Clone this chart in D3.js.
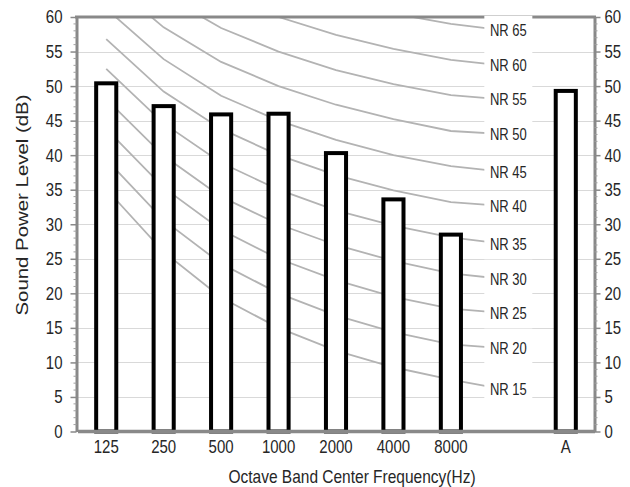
<!DOCTYPE html>
<html><head><meta charset="utf-8">
<script src="https://cdn.jsdelivr.net/npm/d3@7"></script>
<style>
body{margin:0;background:#fff}
svg{display:block;font-family:"Liberation Sans",Arial,sans-serif}
</style>
</head><body>
<svg id="chart" width="630" height="487"></svg>
<script>
// ---- data ----
const categories = ["125", "250", "500", "1000", "2000", "4000", "8000", "", "A"];
const soundPower = [50.4, 47.1, 45.9, 46.0, 40.3, 33.6, 28.5, null, 49.3];
const nrNames = ["NR 15", "NR 20", "NR 25", "NR 30", "NR 35", "NR 40", "NR 45", "NR 50", "NR 55", "NR 60", "NR 65"];
// values at 125,250,500,1000,2000,4000,8000 and the label point
const nr15 = [35.1, 26.0, 19.4, 15.0, 11.7, 9.3, 7.5, 6.0];
const nr20 = [39.4, 30.6, 24.3, 20.0, 16.8, 14.4, 12.6, 12.0];
const nr25 = [43.8, 35.3, 29.2, 25.0, 21.9, 19.5, 17.8, 17.1];
const nr30 = [48.1, 39.9, 34.0, 30.0, 27.0, 24.7, 22.9, 22.0];
const nr35 = [52.5, 44.6, 38.9, 35.0, 32.0, 29.8, 28.1, 27.1];
const nr40 = [56.8, 49.2, 43.8, 40.0, 37.1, 34.9, 33.2, 32.6];
const nr45 = [61.2, 53.9, 48.6, 45.0, 42.2, 40.0, 38.4, 37.5];
const nr50 = [65.5, 58.5, 53.5, 50.0, 47.3, 45.2, 43.5, 43.0];
const nr55 = [69.9, 63.2, 58.4, 55.0, 52.3, 50.3, 48.7, 48.0];
const nr60 = [74.2, 67.8, 63.2, 60.0, 57.4, 55.4, 53.8, 52.9];
const nr65 = [78.6, 72.5, 68.1, 65.0, 62.5, 60.5, 59.0, 58.0];
const nrSeries = [nr15, nr20, nr25, nr30, nr35, nr40, nr45, nr50, nr55, nr60, nr65];
const yTicks = [0, 5, 10, 15, 20, 25, 30, 35, 40, 45, 50, 55, 60];
const xTitle = "Octave Band Center Frequency(Hz)";
const yTitle = "Sound Power Level (dB)";

// ---- layout ----
const SY = 1.2; // vertical text stretch of the original
const TXT = "#262626";
const L = 77, R = 595, T = 17, B = 431.5;
const svg = d3.select("#chart");

const x = d3.scaleBand().domain(d3.range(categories.length)).range([L + 0.5, R - 0.5])
  .paddingInner(0.65).paddingOuter(0.325);
const y = d3.scaleLinear().domain([0, 60]).range([B, T]);
const cx = i => x(i) + x.bandwidth() / 2;

// gridlines
svg.append("g").selectAll("line").data(yTicks.filter(t => t > 0 && t < 60)).join("line")
  .attr("x1", L).attr("x2", R).attr("y1", d => Math.round(y(d)) + 0.5).attr("y2", d => Math.round(y(d)) + 0.5)
  .attr("stroke", "#d9d9d9").attr("stroke-width", 1);

// clip for NR lines
svg.append("clipPath").attr("id", "plotclip").append("rect")
  .attr("x", L).attr("y", T).attr("width", R - L).attr("height", B - T);

const line = d3.line().x((d, i) => cx(i)).y(d => y(d));
svg.append("g").attr("clip-path", "url(#plotclip)").selectAll("path").data(nrSeries).join("path")
  .attr("d", d => line(d)).attr("fill", "none").attr("stroke", "#b3b3b3").attr("stroke-width", 1.8);

// bars
svg.append("g").selectAll("rect").data(soundPower.map((v, i) => ({v, i})).filter(d => d.v !== null)).join("rect")
  .attr("x", d => x(d.i)).attr("y", d => y(d.v)).attr("width", x.bandwidth()).attr("height", d => y(0) - y(d.v))
  .attr("fill", "#fff").attr("stroke", "#000").attr("stroke-width", 4);

// axes
function styleAxis(g) {
  g.select(".domain").attr("stroke", "#898989").attr("stroke-width", 3);
  g.selectAll(".tick line").attr("stroke", "#898989").attr("stroke-width", 1.5);
}
const minor = d3.range(0, 61).filter(v => v % 5 !== 0);

const leftAx = svg.append("g").attr("transform", `translate(${L - 0.5},0)`)
  .call(d3.axisLeft(y).tickValues(yTicks).tickSize(6).tickSizeOuter(0).tickPadding(9));
leftAx.append("g").selectAll("line").data(minor).join("line")
  .attr("x1", -3).attr("x2", 0).attr("y1", d => y(d)).attr("y2", d => y(d))
  .attr("stroke", "#a0a0a0").attr("stroke-width", 1);
styleAxis(leftAx);
leftAx.selectAll(".tick text").attr("x", null).attr("dy", null).attr("y", 0)
  .attr("dominant-baseline", "central")
  .attr("transform", `translate(-14,0) scale(1,${SY})`)
  .attr("font-size", 15).attr("fill", TXT).attr("font-family", null);

const rightAx = svg.append("g").attr("transform", `translate(${R - 0.5},0)`)
  .call(d3.axisRight(y).tickValues(yTicks).tickSize(6).tickSizeOuter(0).tickPadding(5));
rightAx.append("g").selectAll("line").data(minor).join("line")
  .attr("x1", 0).attr("x2", 3).attr("y1", d => y(d)).attr("y2", d => y(d))
  .attr("stroke", "#a0a0a0").attr("stroke-width", 1);
styleAxis(rightAx);
rightAx.selectAll(".tick text").attr("x", null).attr("dy", null).attr("y", 0)
  .attr("dominant-baseline", "central")
  .attr("transform", `translate(10,0) scale(1,${SY})`)
  .attr("font-size", 15).attr("fill", TXT).attr("font-family", null);

const bottomAx = svg.append("g").attr("transform", `translate(0,${B - 0.5})`)
  .call(d3.axisBottom(x).tickFormat(i => categories[i]).tickSize(0).tickSizeOuter(0).tickPadding(0));
bottomAx.select(".domain").attr("stroke", "#898989").attr("stroke-width", 3.5);
bottomAx.selectAll(".tick text").attr("dy", null).attr("y", 0)
  .attr("dominant-baseline", "central")
  .attr("transform", `translate(0,16) scale(1,${SY})`)
  .attr("font-size", 15).attr("fill", TXT).attr("font-family", null);

// top border
svg.append("line").attr("x1", L - 2).attr("x2", R + 1).attr("y1", T).attr("y2", T)
  .attr("stroke", "#898989").attr("stroke-width", 3);

// NR labels with white boxes at the label point (blank category)
const lblG = svg.append("g").selectAll("g").data(nrSeries).join("g")
  .attr("transform", d => `translate(${cx(7)},${y(d[7])})`);
lblG.append("rect").attr("x", -24).attr("y", -15).attr("width", 48).attr("height", 30).attr("fill", "#fff");
lblG.append("text").text((d, i) => nrNames[i]).attr("text-anchor", "middle").attr("dominant-baseline", "central")
  .attr("transform", `scale(1,${SY})`).attr("font-size", 13).attr("fill", TXT);

// titles
svg.append("text").text(xTitle).attr("text-anchor", "middle").attr("dominant-baseline", "central")
  .attr("transform", `translate(352,477) scale(1,${SY})`).attr("font-size", 15.5).attr("fill", TXT);
svg.append("text").text(yTitle).attr("text-anchor", "middle").attr("dominant-baseline", "central")
  .attr("transform", `translate(22,205) scale(1,${SY}) rotate(-90)`).attr("font-size", 17).attr("fill", TXT);
</script>
</body></html>
